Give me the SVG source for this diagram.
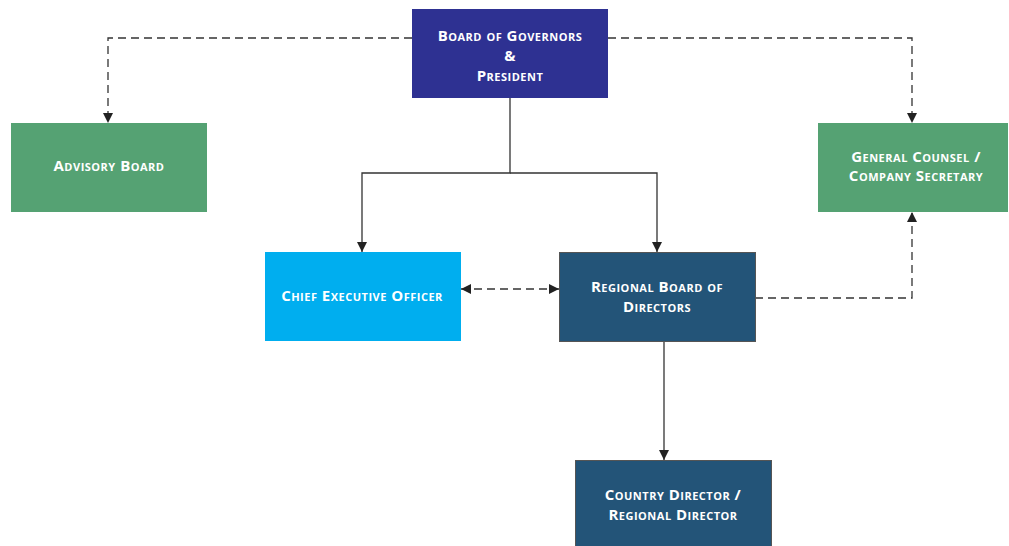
<svg xmlns="http://www.w3.org/2000/svg" width="1009" height="546" viewBox="0 0 1009 546">
<defs>
<marker id="arr" viewBox="0 0 10 10" refX="10" refY="5" markerWidth="10" markerHeight="10" markerUnits="userSpaceOnUse" orient="auto-start-reverse">
<path d="M0,0 L10,5 L0,10 z" fill="#222"/>
</marker>
<style>
.lbl{font-family:"Open Sans","Noto Sans",sans-serif;font-weight:bold;font-size:15px;letter-spacing:0.5px;font-variant:small-caps;fill:#fff;text-anchor:middle}
.solid{fill:none;stroke:#333;stroke-width:1.3}
.dash{fill:none;stroke:#333;stroke-width:1.3;stroke-dasharray:8 5}
</style>
</defs>
<rect width="1009" height="546" fill="#fff"/>
<g id="connectors">
<path class="dash" d="M412,38 H108 V123" marker-end="url(#arr)"/>
<path class="dash" d="M608,38 H912 V123" marker-end="url(#arr)"/>
<path class="solid" d="M510,98 V173 H362 V252" marker-end="url(#arr)"/>
<path class="solid" d="M510,173 H657 V252" marker-end="url(#arr)"/>
<path class="dash" d="M461,289 H559" marker-start="url(#arr)" marker-end="url(#arr)"/>
<path class="dash" d="M755,298 H912 V212" marker-end="url(#arr)"/>
<path class="solid" d="M664,341 V460" marker-end="url(#arr)"/>
</g>
<g id="board">
<rect x="412" y="9" width="196" height="89" fill="#2e3192"/>
<text class="lbl" x="510" y="41">Board of Governors</text>
<text class="lbl" x="510" y="61">&amp;</text>
<text class="lbl" x="510" y="81">President</text>
</g>
<g id="advisory">
<rect x="11" y="123" width="196" height="89" fill="#55a273"/>
<text class="lbl" x="109" y="171">Advisory Board</text>
</g>
<g id="counsel">
<rect x="818" y="123" width="190" height="89" fill="#55a273"/>
<text class="lbl" x="916" y="162">General Counsel /</text>
<text class="lbl" x="916" y="181">Company Secretary</text>
</g>
<g id="ceo">
<rect x="265" y="252" width="196" height="89" fill="#00aeef"/>
<text class="lbl" x="362" y="301">Chief Executive Officer</text>
</g>
<g id="regional">
<rect x="559.5" y="252.5" width="196" height="89" fill="#235478" stroke="#555" stroke-width="1"/>
<text class="lbl" x="657" y="292">Regional Board of</text>
<text class="lbl" x="657" y="312">Directors</text>
</g>
<g id="country">
<rect x="575.5" y="460.5" width="196" height="89" fill="#235478" stroke="#555" stroke-width="1"/>
<text class="lbl" x="673" y="500">Country Director /</text>
<text class="lbl" x="673" y="520">Regional Director</text>
</g>
</svg>
